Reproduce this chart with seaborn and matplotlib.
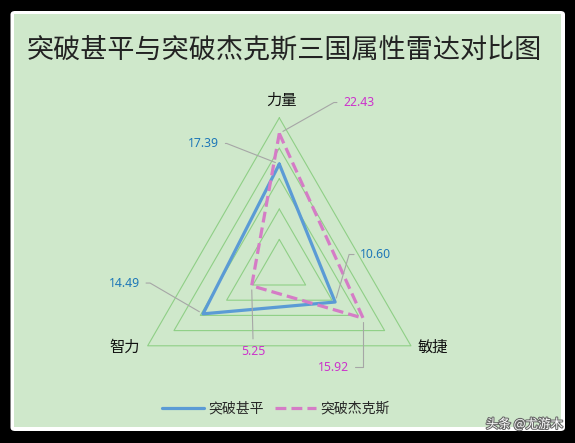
import numpy as np
import pandas as pd
import matplotlib
matplotlib.use("Agg")
import matplotlib.pyplot as plt
import matplotlib.patheffects as pe
from matplotlib.patches import FancyBboxPatch
import seaborn as sns

# data
attributes = ["力量", "敏捷", "智力"]
series_names = ["突破甚平", "突破杰克斯"]
jiaping = [17.39, 10.60, 14.49]
jackson = [22.43, 15.92, 5.25]
ring_levels = [5, 10, 15, 20, 25]

sns.set_style("white")
plt.rcParams["font.family"] = ["Noto Sans CJK SC", "DejaVu Sans"]

W, H = 575, 443
fig = plt.figure(figsize=(W / 100, H / 100), dpi=100, facecolor="black")

# white rounded frame + green panel (behind the axes)
fig.patches.append(FancyBboxPatch((10.5 / W, 12 / H), 554.5 / W, 420 / H,
                                  boxstyle="round,pad=0,rounding_size=0.008",
                                  transform=fig.transFigure, fc="white", ec="none",
                                  zorder=-10))
fig.patches.append(FancyBboxPatch((14 / W, 16 / H), 547 / W, 413 / H,
                                  boxstyle="square,pad=0",
                                  transform=fig.transFigure, fc="#cfe8cb", ec="none",
                                  zorder=-9))

# polar axes: centre (279.3, 269.8) px, radius 152 px
cx, cy, rad = 279.3, H - 269.8, 152
ax = fig.add_axes([(cx - rad) / W, (cy - rad) / H, 2 * rad / W, 2 * rad / H], projection="polar")
ax.set_facecolor("none")
ax.set_zorder(2)
ax.set_theta_offset(np.pi / 2)
ax.set_theta_direction(-1)
ax.set_ylim(0, 25)
ax.grid(False)
ax.set_xticks([])
ax.set_yticks([])
ax.spines["polar"].set_visible(False)

angles = np.linspace(0, 2 * np.pi, len(attributes) + 1)

df = pd.DataFrame({
    "theta": np.concatenate([angles, angles]),
    "value": jiaping + jiaping[:1] + jackson + jackson[:1],
    "series": [series_names[0]] * 4 + [series_names[1]] * 4,
})
sns.lineplot(data=df, x="theta", y="value", hue="series", style="series",
             palette={series_names[0]: "#5b9bd5", series_names[1]: "#d57cc6"},
             dashes={series_names[0]: "", series_names[1]: (3.4, 1.6)},
             sort=False, estimator=None, linewidth=2.3, legend=False, ax=ax)
series_lines = list(ax.get_lines())
for ln, name in zip(series_lines, series_names):
    ln.set_label(name)
    ln.set_clip_on(False)
    ln.set_zorder(3)

for lvl in ring_levels:
    ax.plot(angles, [lvl] * len(angles), color="#8fcf86", lw=0.8, clip_on=False, zorder=1)

ax.set_xlabel("")
ax.set_ylabel("")
ax.set_ylim(0, 25)

# category labels next to outer vertices
cat_offsets = [(1.7, 17.8), (22, -1.2), (-22.6, -1.2)]
for th, name, off in zip(angles[:-1], attributes, cat_offsets):
    ax.annotate(name, xy=(th, 25), xytext=off, textcoords="offset pixels",
                ha="center", va="center", fontsize=11, color="#111111")

# data labels with leader lines
label_specs = [
    # series, attr index, offset, ha, relpos, connection
    (0, 0, (-60, 20.6), "right", (1, 0.5), "angle,angleA=0,angleB=-21.4,rad=0"),
    (0, 1, (25, 47.5), "left", (0, 0.5), "angle,angleA=0,angleB=73.6,rad=0"),
    (0, 2, (-63, 30.8), "right", (1, 0.5), "angle,angleA=0,angleB=-30.2,rad=0"),
    (1, 0, (63.7, 30.9), "left", (0, 0.5), "angle,angleA=0,angleB=29.5,rad=0"),
    (1, 1, (-14.1, -49.3), "right", (1, 0.5), "angle,angleA=0,angleB=90,rad=0"),
    (1, 2, (1.5, -65.7), "center", (0.5, 1), "arc3,rad=0"),
]
values = [jiaping, jackson]
text_colors = ["#1f78b8", "#cc33cc"]
for s, i, off, ha, relpos, conn in label_specs:
    v = values[s][i]
    ax.annotate(f"{v:.2f}", xy=(angles[i], v), xytext=off, textcoords="offset pixels",
                ha=ha, va="center", fontsize=8.8, color=text_colors[s],
                family=["Noto Sans", "DejaVu Sans"],
                arrowprops=dict(arrowstyle="-", color="#a6a6a6", lw=0.8,
                                connectionstyle=conn, relpos=relpos,
                                shrinkA=2, shrinkB=3))

fig.text(0.494, (H - 50) / H, "突破甚平与突破杰克斯三国属性雷达对比图",
         ha="center", va="center", fontsize=19.5, color="#222222", fontweight="light")

fig.legend(handles=series_lines, labels=series_names, loc="center",
           bbox_to_anchor=(276 / W, (H - 409) / H), ncol=2, frameon=False,
           fontsize=10, handlelength=3, handletextpad=0.3, columnspacing=0.8)

fig.text(563 / W, (H - 424) / H, "头条 @尤游木", ha="right", va="center",
         fontsize=9, color="white",
         path_effects=[pe.withStroke(linewidth=1.5, foreground="#666666")])

fig.savefig("out.png", dpi=100, facecolor=fig.get_facecolor())
